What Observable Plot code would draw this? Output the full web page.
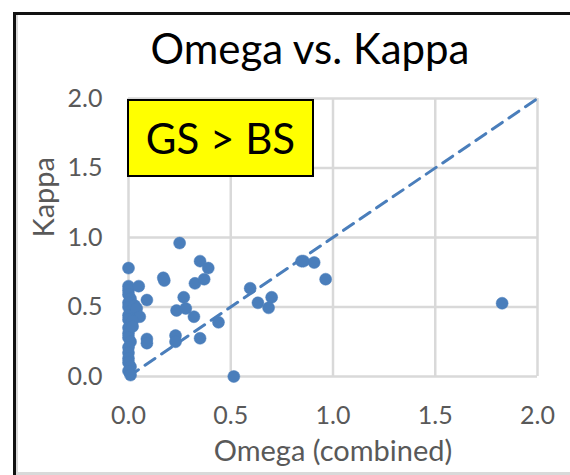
<!DOCTYPE html>
<html>
<head>
<meta charset="utf-8">
<script src="https://cdn.jsdelivr.net/npm/d3@7"></script>
<script src="https://cdn.jsdelivr.net/npm/@observablehq/plot@0.6"></script>
<style>
  html, body { margin: 0; padding: 0; background: #fff; }
  #page { position: relative; width: 570px; height: 475px; overflow: hidden; background: #fff; font-family: Lato, "Open Sans", sans-serif; }
  #frameTop { position: absolute; left: 13px; top: 12px; width: 557px; height: 3px; background: #111; }
  #frameLeft { position: absolute; left: 13px; top: 12px; width: 3px; height: 463px; background: #111; }
  #innerLeft { position: absolute; left: 16px; top: 15px; width: 2px; height: 460px; background: #d9d9d9; }
  #innerBottom { position: absolute; left: 16px; top: 472px; width: 554px; height: 3px; background: #d9d9d9; }
  #title { position: absolute; left: 0; top: 27px; width: 570px; padding-left: 50px; box-sizing: border-box; text-align: center; font-size: 42px; line-height: 42px; color: #000; }
  #chart { position: absolute; left: 0; top: 85px; }
  #note { position: absolute; left: 127px; top: 99px; width: 187px; height: 78px; box-sizing: border-box; border: 2px solid #000; background: #ffff00; display: flex; align-items: center; justify-content: center; font-size: 42px; color: #000; z-index: 5; }
</style>
</head>
<body>
<div id="page">
  <div id="frameTop"></div>
  <div id="frameLeft"></div>
  <div id="innerLeft"></div>
  <div id="innerBottom"></div>
  <div id="title">Omega vs. Kappa</div>
  <div id="chart"></div>
  <div id="note">GS &gt; BS</div>
</div>
<script>
// Data
const omega = [
  0.00, 0.00, 0.00, 0.00, 0.01, 0.00, 0.00, 0.01, 0.00, 0.00, 0.01, 0.00,
  0.00, 0.00, 0.01, 0.00, 0.00, 0.00, 0.00, 0.01, 0.00, 0.01,
  0.03, 0.04, 0.05, 0.09, 0.055, 0.02, 0.02, 0.09, 0.09,
  0.17, 0.175, 0.23, 0.23, 0.25, 0.235, 0.27, 0.28, 0.32, 0.325,
  0.35, 0.35, 0.37, 0.39, 0.44, 0.515,
  0.595, 0.633, 0.685, 0.70, 0.846, 0.856, 0.908, 0.964, 1.827
];
const kappa = [
  0.78, 0.65, 0.62, 0.59, 0.56, 0.53, 0.50, 0.47, 0.44, 0.41, 0.38, 0.35,
  0.31, 0.28, 0.25, 0.21, 0.17, 0.13, 0.10, 0.07, 0.04, 0.01,
  0.51, 0.49, 0.65, 0.55, 0.43, 0.40, 0.36, 0.27, 0.24,
  0.71, 0.69, 0.295, 0.25, 0.96, 0.475, 0.57, 0.49, 0.43, 0.67,
  0.83, 0.275, 0.70, 0.78, 0.39, 0.00,
  0.635, 0.53, 0.494, 0.57, 0.83, 0.83, 0.82, 0.70, 0.527
];
const diagX = [0, 2];
const diagY = [0, 2];
const xTicks = [0, 0.5, 1, 1.5, 2];
const yTicks = [0, 0.5, 1, 1.5, 2];
const xLabel = "Omega (combined)";
const yLabel = "Kappa";

const points = omega.map((o, i) => ({omega: o, kappa: kappa[i]}));
const diag = diagX.map((x, i) => ({x, y: diagY[i]}));

const blue = "#4a7ebb";
const grey = "#595959";

const chart = Plot.plot({
  width: 570,
  height: 390,
  marginLeft: 128,
  marginRight: 33,
  marginTop: 13,
  marginBottom: 99,
  style: {fontFamily: "Lato, 'Open Sans', sans-serif", fontSize: "25px", color: grey, background: "transparent", overflow: "visible"},
  x: {domain: [0, 2], ticks: xTicks, tickFormat: d3.format(".1f"), tickSize: 0, tickPadding: 30, label: null},
  y: {domain: [0, 2], ticks: yTicks, tickFormat: d3.format(".1f"), tickSize: 0, tickPadding: 26, label: null},
  marks: [
    Plot.ruleX(xTicks, {stroke: "#d9d9d9", strokeWidth: 2.5}),
    Plot.ruleY(yTicks, {stroke: "#d9d9d9", strokeWidth: 2.5}),
    Plot.line(diag, {x: "x", y: "y", stroke: blue, strokeWidth: 3, strokeDasharray: "12,8"}),
    Plot.dot(points, {x: "omega", y: "kappa", r: 6, fill: blue, stroke: blue, strokeOpacity: 0.5, strokeWidth: 1}),
    Plot.text([xLabel], {frameAnchor: "bottom", text: d => d, dy: 84, fontSize: 29, fill: grey}),
    Plot.text([yLabel], {frameAnchor: "left", text: d => d, rotate: -90, dx: -84, fontSize: 29, fill: grey})
  ]
});
document.getElementById("chart").appendChild(chart);
</script>
</body>
</html>
